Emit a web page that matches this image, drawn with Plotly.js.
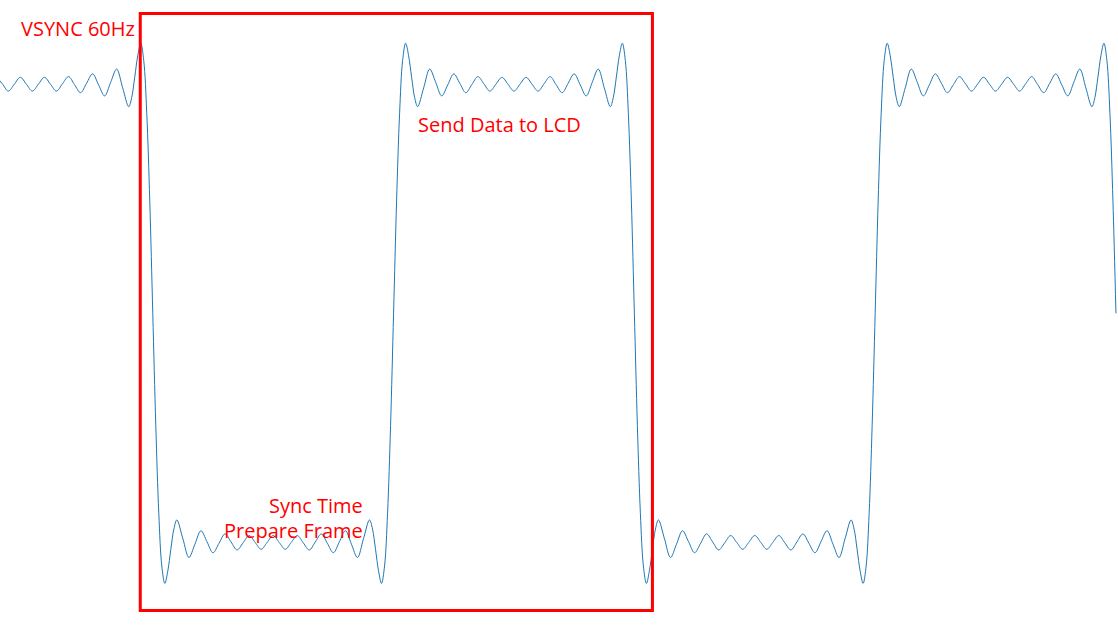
<!DOCTYPE html>
<html><head><meta charset="utf-8">
<script src="https://cdn.plot.ly/plotly-3.0.1.min.js"></script>
<style>html,body{margin:0;padding:0;background:#fff}#chart{width:1118px;height:629px}</style>
</head><body><div id="chart"></div>
<script>
// time (arbitrary units, one ripple extreme per unit) and signal level
const t0 = [-13,-12.5,-12,-11.5,-11,-10.5,-10,-9.5,-9,-8.5,-8,-7.5,-7,-6.5,-6,-5.5,-5,-4.5,-4,-3.5,-3,-2.5,-2,-1.75,-1.5,-1.25,-1,-0.75,-0.5,-0.25,0];
const v0 = [1.033,1.002,0.970,1.000,1.030,1.000,0.970,1.000,1.030,1.000,0.970,1.002,1.033,0.998,0.963,1.004,1.045,0.997,0.949,1.008,1.066,0.984,0.902,0.942,1.030,1.124,1.179,1.103,0.873,0.490,0];

const t1 = [0.25,0.5,0.75,1,1.25,1.5,1.75,2,2.5,3,3.5,4,4.5,5,5.5,6,6.5,7,7.5,8,8.5,9,9.5,10,10.5,11,11.5,12,12.5,13,13.5,14,14.5,15,15.5,16,16.5,17,17.5,18,18.25,18.5,18.75,19,19.25,19.5,19.75,20];
const v1 = [-0.490,-0.873,-1.103,-1.179,-1.124,-1.030,-0.942,-0.902,-0.984,-1.066,-1.008,-0.949,-0.997,-1.045,-1.004,-0.963,-0.998,-1.033,-1.002,-0.970,-1.000,-1.030,-1.000,-0.970,-1.000,-1.030,-1.000,-0.970,-1.002,-1.033,-0.998,-0.963,-1.004,-1.045,-0.997,-0.949,-1.008,-1.066,-0.984,-0.902,-0.942,-1.030,-1.124,-1.179,-1.103,-0.873,-0.490,0];

const t2 = [20.25,20.5,20.75,21,21.25,21.5,21.75,22,22.5,23,23.5,24,24.5,25,25.5,26,26.5,27,27.5,28,28.5,29,29.5,30,30.5,31,31.5,32,32.5,33,33.5,34,34.5,35,35.5,36,36.5,37,37.5,38,38.25,38.5,38.75,39,39.25,39.5,39.75,40];
const v2 = [0.490,0.873,1.103,1.179,1.124,1.030,0.942,0.902,0.984,1.066,1.008,0.949,0.997,1.045,1.004,0.963,0.998,1.033,1.002,0.970,1.000,1.030,1.000,0.970,1.000,1.030,1.000,0.970,1.002,1.033,0.998,0.963,1.004,1.045,0.997,0.949,1.008,1.066,0.984,0.902,0.942,1.030,1.124,1.179,1.103,0.873,0.490,0];

const t3 = [40.25,40.5,40.75,41,41.25,41.5,41.75,42,42.5,43,43.5,44,44.5,45,45.5,46,46.5,47,47.5,48,48.5,49,49.5,50,50.5,51,51.5,52,52.5,53,53.5,54,54.5,55,55.5,56,56.5,57,57.5,58,58.25,58.5,58.75,59,59.25,59.5,59.75,60];
const v3 = [-0.490,-0.873,-1.103,-1.179,-1.124,-1.030,-0.942,-0.902,-0.984,-1.066,-1.008,-0.949,-0.997,-1.045,-1.004,-0.963,-0.998,-1.033,-1.002,-0.970,-1.000,-1.030,-1.000,-0.970,-1.000,-1.030,-1.000,-0.970,-1.002,-1.033,-0.998,-0.963,-1.004,-1.045,-0.997,-0.949,-1.008,-1.066,-0.984,-0.902,-0.942,-1.030,-1.124,-1.179,-1.103,-0.873,-0.490,0];

const t4 = [60.25,60.5,60.75,61,61.25,61.5,61.75,62,62.5,63,63.5,64,64.5,65,65.5,66,66.5,67,67.5,68,68.5,69,69.5,70,70.5,71,71.5,72,72.5,73,73.5,74,74.5,75,75.5,76,76.5,77,77.5,78,78.25,78.5,78.75,79,79.25,79.5,79.75,80];
const v4 = [0.490,0.873,1.103,1.179,1.124,1.030,0.942,0.902,0.984,1.066,1.008,0.949,0.997,1.045,1.004,0.963,0.998,1.033,1.002,0.970,1.000,1.030,1.000,0.970,1.000,1.030,1.000,0.970,1.002,1.033,0.998,0.963,1.004,1.045,0.997,0.949,1.008,1.066,0.984,0.902,0.942,1.030,1.124,1.179,1.103,0.873,0.490,0];

const labels = ["VSYNC 60Hz", "Send Data to LCD", "Sync Time", "Prepare Frame"];

const xs = [].concat(t0, t1, t2, t3, t4);
const ys = [].concat(v0, v1, v2, v3, v4);

const trace = {
  x: xs, y: ys, type: 'scatter', mode: 'lines',
  line: {color: '#1f77b4', width: 1, shape: 'spline', smoothing: 1},
  hoverinfo: 'skip'
};

const red = '#ff0000';
const font = {family: 'Open Sans, Noto Sans, sans-serif', size: 20, color: red};

const layout = {
  width: 1118, height: 629,
  margin: {l: 0, r: 0, t: 0, b: 0},
  paper_bgcolor: '#ffffff', plot_bgcolor: '#ffffff',
  showlegend: false,
  xaxis: {range: [-12.69, 80.17], visible: false, fixedrange: true},
  yaxis: {range: [-1.378, 1.3675], visible: false, fixedrange: true},
  shapes: [{
    type: 'rect', xref: 'x', yref: 'y',
    x0: -1.04, x1: 41.50, y0: -1.297, y1: 1.309,
    line: {color: red, width: 3}, fillcolor: 'rgba(0,0,0,0)', layer: 'above'
  }],
  annotations: [
    {x: -1.34, y: 1.242, xref: 'x', yref: 'y', text: labels[0], showarrow: false, xanchor: 'right', yanchor: 'middle', font: font},
    {x: 21.88, y: 0.822, xref: 'x', yref: 'y', text: labels[1], showarrow: false, xanchor: 'left', yanchor: 'middle', font: font},
    {x: 17.6, y: -0.841, xref: 'x', yref: 'y', text: labels[2], showarrow: false, xanchor: 'right', yanchor: 'middle', font: font},
    {x: 17.6, y: -0.946, xref: 'x', yref: 'y', text: labels[3], showarrow: false, xanchor: 'right', yanchor: 'middle', font: font}
  ]
};

Plotly.newPlot('chart', [trace], layout, {displayModeBar: false, staticPlot: true});
</script></body></html>
